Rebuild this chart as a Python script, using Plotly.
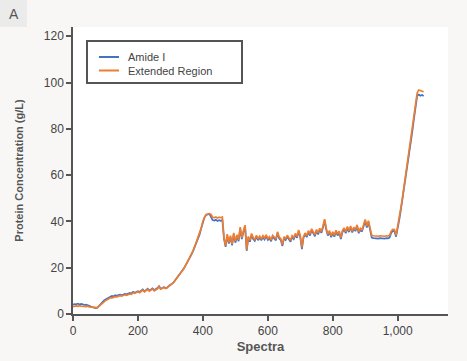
import plotly.graph_objects as go

spectra = list(range(0, 1085, 5))

extended_region = [
    3.2, 3.4, 3.5, 3.3, 3.6, 3.4, 3.5, 3.3, 3.2, 3.4, 3.1, 3.0, 3.1, 2.9, 2.8,
    2.8, 3.3, 4.0, 4.8, 5.3, 5.8,
    6.2, 6.6, 7.0, 7.0, 7.3, 7.5, 7.4, 7.6, 7.9, 7.7, 8.0, 8.3, 8.1, 8.4, 8.7, 8.5, 9.2, 8.9, 9.4, 9.6,
    9.2, 9.8, 10.3, 9.6, 10.1, 10.6, 9.9, 10.2, 10.8, 10.0, 10.4, 10.9, 11.8, 10.7, 11.1, 11.5, 11.0, 11.3, 12.0, 12.4,
    13.0, 13.6, 14.5, 15.3, 16.3, 17.3, 18.3, 19.3, 20.5, 21.8, 23.1, 24.4, 25.9, 27.4, 29.2, 31.0, 32.8, 34.6, 37.2, 40.2, 42.0, 43.0,
    43.2, 43.4, 43.0, 41.8, 41.6, 41.9, 41.5, 41.8, 41.6, 41.9,
    33.0, 29.5, 34.5, 31.0, 33.8, 30.2, 35.0, 31.5, 34.2, 32.0, 37.5, 33.0, 36.0, 38.4, 27.8, 33.5, 31.8, 34.8, 33.0, 32.2, 34.0, 32.5, 33.6,
    32.4, 33.8, 32.8, 34.2, 32.6, 33.4, 32.0, 34.0, 33.0, 32.4, 35.5, 33.2, 32.5, 30.0, 33.4, 32.6, 34.0, 33.0, 31.8, 33.8, 33.0, 34.8, 33.5, 36.3, 33.8,
    28.8, 33.5, 35.0, 33.8, 36.0, 34.5, 36.8, 35.2, 34.2, 36.5, 35.0, 37.0, 35.6, 38.0, 41.0, 37.0, 34.5, 36.0, 33.8, 35.5, 34.0, 36.2, 34.5, 35.8, 33.0, 36.0,
    37.2, 35.5, 37.8, 36.0, 38.0, 35.8, 37.5, 36.4, 38.5, 35.5, 37.0, 36.2, 38.2, 40.8, 38.0, 40.3, 37.0,
    34.0, 33.8, 33.7, 33.9, 33.6, 33.8, 33.7, 33.9, 33.6, 33.8, 33.7, 34.0, 35.8, 36.6,
    36.5, 34.0, 37.5, 41.5, 46.0, 50.5, 55.5, 61.0, 65.5, 70.0, 74.5, 79.5, 85.0, 91.5, 95.5, 96.8, 96.5, 96.2, 96.0,
]

amide_i = [
    4.0, 4.3, 4.2, 4.5, 4.1, 4.4, 4.2, 3.9, 4.0, 3.6, 3.5, 3.2, 2.9, 2.6, 2.5,
    2.7, 3.5, 4.4, 5.2, 5.8, 6.3,
    6.8, 7.2, 7.5, 7.8, 7.6, 8.1, 7.9, 8.2, 8.4, 8.1, 8.6, 8.7, 8.5, 8.9, 9.1, 8.8, 9.6, 9.2, 9.7, 9.9,
    9.5, 10.2, 10.6, 9.8, 10.5, 10.9, 10.1, 10.6, 11.1, 10.3, 10.6, 11.2, 12.0, 10.9, 11.2, 11.6, 11.2, 11.4, 12.1, 12.5,
    13.1, 13.7, 14.6, 15.4, 16.4, 17.4, 18.4, 19.4, 20.6, 21.8, 23.1, 24.3, 25.8, 27.3, 29.0, 30.8, 32.6, 34.4, 37.0, 40.0, 41.8, 42.8,
    43.0, 43.2, 42.0, 40.6, 40.4, 40.7, 40.2, 40.5, 40.3, 40.6,
    32.6, 29.0, 33.8, 30.4, 33.2, 29.7, 34.4, 30.8, 33.6, 31.4, 36.8, 32.4, 35.4, 37.8, 27.3, 33.0, 31.2, 34.2, 32.4, 31.6, 33.4, 31.9, 33.0,
    31.8, 33.2, 32.2, 33.6, 32.0, 32.8, 31.4, 33.4, 32.4, 31.8, 35.0, 32.6, 31.9, 29.4, 32.8, 32.0, 33.4, 32.4, 31.2, 33.2, 32.4, 34.2, 32.9, 35.7, 33.2,
    28.0, 33.0, 34.4, 33.2, 35.4, 33.9, 36.2, 34.6, 33.6, 35.9, 34.4, 36.4, 35.0, 37.4, 40.4, 36.4, 33.9, 35.4, 33.2, 34.9, 33.4, 35.6, 33.9, 35.2, 32.4, 35.4,
    36.6, 34.9, 37.2, 35.4, 37.4, 35.2, 36.9, 35.8, 37.9, 34.9, 36.4, 35.6, 37.6, 40.2, 37.4, 39.7, 36.4,
    33.0, 32.8, 32.7, 32.9, 32.6, 32.8, 32.7, 32.9, 32.6, 32.8, 32.7, 33.0, 35.0, 35.9,
    35.8, 33.4, 36.8, 40.8, 45.2, 49.8, 54.8, 60.2, 64.8, 69.3, 73.8, 78.8, 84.2, 90.6, 94.2, 94.8, 94.3, 94.6, 94.2,
]

series_names = ["Amide I", "Extended Region"]
x_tick_vals = [0, 200, 400, 600, 800, 1000]
x_tick_text = ["0", "200", "400", "600", "800", "1,000"]
y_tick_vals = [0, 20, 40, 60, 80, 100, 120]

FONT = "Liberation Sans, Arial, Helvetica, sans-serif"
BLUE = "#4472c4"
ORANGE = "#ed7d31"
AXIS = "#555555"

W, H = 467, 361
ml, mr, mt, mb = 73, 19, 27, 47
pw, ph = W - ml - mr, H - mt - mb


def px(xp):
    return (xp - ml) / pw


def py(yp):
    return 1 - (yp - mt) / ph


fig = go.Figure()
fig.add_trace(go.Scatter(x=spectra, y=amide_i, mode="lines", name=series_names[0],
                         line=dict(color=BLUE, width=1.7), showlegend=False))
fig.add_trace(go.Scatter(x=spectra, y=extended_region, mode="lines", name=series_names[1],
                         line=dict(color=ORANGE, width=1.7), showlegend=False))

# panel label
fig.add_shape(type="rect", xref="paper", yref="paper",
              x0=px(0), x1=px(27), y0=py(27), y1=py(0),
              fillcolor="#ebebeb", line=dict(width=0), layer="below")
fig.add_annotation(text="A", xref="paper", yref="paper", x=px(14), y=py(14),
                   showarrow=False, font=dict(family=FONT, size=14, color="#555555"),
                   xanchor="center", yanchor="middle")

# legend box
fig.add_shape(type="rect", xref="paper", yref="paper",
              x0=px(87), x1=px(242), y0=py(83), y1=py(41),
              fillcolor="#ffffff", line=dict(color=AXIS, width=2), layer="above")
for name, color, yy in [(series_names[0], BLUE, 57), (series_names[1], ORANGE, 70.5)]:
    fig.add_shape(type="line", xref="paper", yref="paper",
                  x0=px(99), x1=px(119), y0=py(yy), y1=py(yy),
                  line=dict(color=color, width=2), layer="above")
    fig.add_annotation(text=name, xref="paper", yref="paper", x=px(126), y=py(yy),
                       showarrow=False, xanchor="left", yanchor="middle",
                       font=dict(family=FONT, size=11, color="#444444"))

fig.update_layout(
    width=W, height=H,
    margin=dict(l=ml, r=mr, t=mt, b=mb, autoexpand=False),
    paper_bgcolor="#f8f7f5",
    plot_bgcolor="#ffffff",
    font=dict(family=FONT, size=12, color="#444444"),
    showlegend=False,
    xaxis=dict(range=[0, 1155], tickvals=x_tick_vals, ticktext=x_tick_text,
               showline=True, linecolor=AXIS, linewidth=1.5, ticks="outside",
               ticklen=5, tickwidth=1.5, tickcolor=AXIS, showgrid=False, zeroline=False,
               automargin=False,
               tickfont=dict(size=12, color="#444444"),
               title=dict(text="<b>Spectra</b>", font=dict(size=13, color="#555555"), standoff=5)),
    yaxis=dict(range=[0, 124], tickvals=y_tick_vals,
               showline=True, linecolor=AXIS, linewidth=1.5, ticks="outside",
               ticklen=5, tickwidth=1.5, tickcolor=AXIS, showgrid=False, zeroline=False,
               automargin=False,
               tickfont=dict(size=12, color="#444444"),
               title=dict(text="<b>Protein Concentration (g/L)</b>", font=dict(size=11, color="#555555"), standoff=18)),
)

fig.write_html("out.html", config={"displayModeBar": False},
               post_script="document.body.style.margin='0px';document.body.style.padding='0px';")
